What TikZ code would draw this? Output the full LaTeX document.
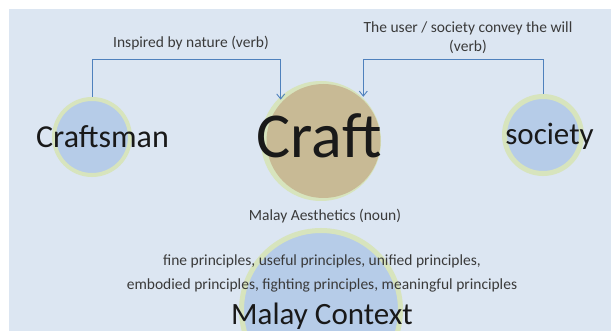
\documentclass[tikz,border=0pt]{standalone}
\usepackage{fontspec}
\setmainfont{Carlito}
\usetikzlibrary{arrows.meta}
\definecolor{bgblue}{HTML}{DCE6F2}
\definecolor{ringgreen}{HTML}{D7E4BD}
\definecolor{discblue}{HTML}{B6CCE8}
\definecolor{disctan}{HTML}{C8BA95}
\definecolor{linkblue}{HTML}{4F81BD}
\definecolor{textgrey}{HTML}{3A3A3A}

\begin{document}
\begin{tikzpicture}[x=1pt,y=-1pt,
    disc/.style={circle, fill=#1, draw=ringgreen, line width=5pt, inner sep=0pt},
    link/.style={linkblue, line width=0.9pt, -{Straight Barb[length=5pt,width=8pt]}},
    note/.style={text=textgrey, font=\fontsize{15.5}{19}\selectfont, align=center},
    big/.style={text=black!90, font=\fontsize{#1}{#1}\selectfont}]
            \useasboundingbox (0,0) rectangle (611,331);
            % slide background
            \fill[bgblue] (9,9) rectangle (611,331);

            % circles
            \node[disc=discblue, minimum size=76pt, line width=4pt] (cman) at (92,137) {};
            \fill[ringgreen] (321,141) circle (60);
            \node[disc=disctan, minimum size=114pt, draw=none] (craft) at (323.5,141) {};
            \node[disc=discblue, minimum size=77pt] (soc) at (543,135) {};
            \node[disc=discblue, minimum size=159pt] (ctx) at (321,310) {};

            % circle texts
            \node[big=32, anchor=base] (cmantxt) at (102.5,148) {Craftsman};
            \node[big=64, anchor=base] (crafttxt) at (319,158) {Craft};
            \node[big=31, anchor=base] (soctxt) at (549.5,145) {society};
            \node[big=31, anchor=base, inner sep=0pt] (ctxtxt) at (322,324.5) {Malay Context};

            % labels
            \node[note] (inspired) at (191,43) {Inspired by nature (verb)};
            \node[note] (convey) at (468,37.5) {The user / society convey the will\\(verb)};
            \node[note] (aesth) at (325,216) {Malay Aesthetics (noun)};
            \node[note, font=\fontsize{15.5}{24}\selectfont] (princ) at (322,273)
                {fine principles, useful principles, unified principles,\\embodied principles, fighting principles, meaningful principles};

            % verbs
            \draw[link] (cman.north) -- ++(0,-38) -| (craft.136);
            \draw[link] (soc.north) -- ++(0,-35) -| (craft.48);
\end{tikzpicture}
\end{document}
